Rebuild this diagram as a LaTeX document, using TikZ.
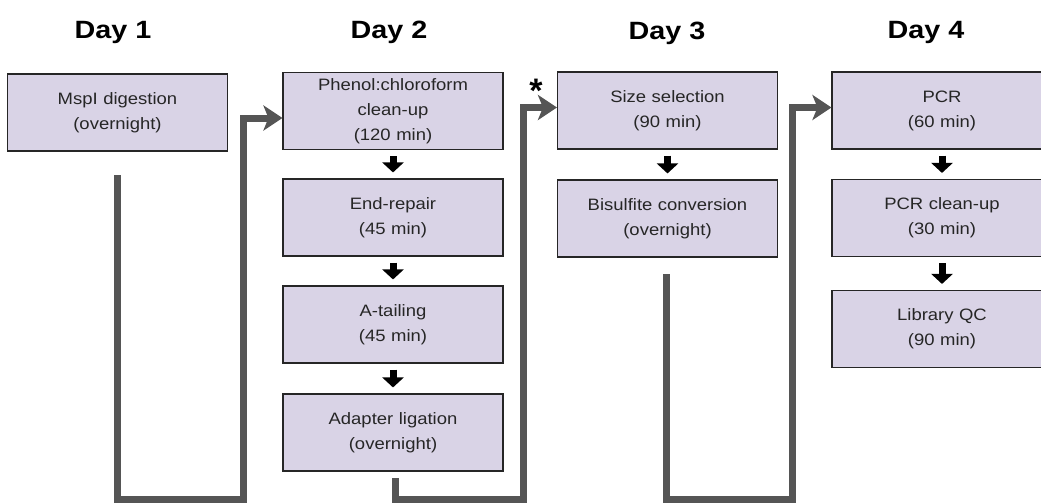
\documentclass[tikz,border=0pt]{standalone}
\usepackage{fontspec}
\setmainfont{Liberation Sans}
\newfontfamily\boxfont[FakeStretch=1.12]{Liberation Sans}
\newfontfamily\dayfont[FakeStretch=1.15]{Liberation Sans}
\usepackage{tikz}
\usetikzlibrary{arrows.meta,positioning}
\definecolor{boxfill}{HTML}{D9D3E6}
\definecolor{flowgray}{HTML}{555555}

\begin{document}
\begin{tikzpicture}[x=1pt, y=-1pt,
    bx/.style={rectangle, draw=black!85, line width=1.1pt, fill=boxfill,
               minimum width=220pt, minimum height=77pt, inner sep=0pt,
               text width=210pt, align=center, text=black!85,
               font=\boxfont\fontsize{16.5}{25}\selectfont},
    day/.style={anchor=base, font=\dayfont\bfseries\fontsize{25}{28}\selectfont},
    dn/.style={line width=7pt, shorten <=6pt, shorten >=6pt,
               -{Triangle[width=21pt, length=10pt]}},
    fl/.style={draw=flowgray, line width=7pt, line join=miter,
               -{Stealth[length=19pt, width=25pt, inset=5pt]}},
  ]
  \useasboundingbox (0,0) rectangle (1041,503);
  % day headings
  \node[day] (d1) at (113,39) {Day 1};
  \node[day] (d2) at (389,39) {Day 2};
  \node[day] (d3) at (667,40) {Day 3};
  \node[day] (d4) at (926,39) {Day 4};
  % steps
  \node[bx] (n1) at (117.5,112.5) {MspI digestion\\(overnight)};
  \node[bx] (n2) at (393,111) {Phenol:chloroform\\clean-up\\(120 min)};
  \node[bx] (n3) at (393,217.5) {End-repair\\(45 min)};
  \node[bx] (n4) at (393,324.5) {A-tailing\\(45 min)};
  \node[bx] (n5) at (393,432.5) {Adapter ligation\\(overnight)};
  \node[bx] (n6) at (667.5,110.5) {Size selection\\(90 min)};
  \node[bx] (n7) at (667.5,218.5) {Bisulfite conversion\\(overnight)};
  \node[bx] (n8) at (942,110.5) {PCR\\(60 min)};
  \node[bx] (n9) at (942,218) {PCR clean-up\\(30 min)};
  \node[bx] (n10) at (942,329) {Library QC\\(90 min)};
  \node[anchor=base, font=\bfseries\fontsize{34}{36}\selectfont] (ast) at (536,102) {*};
  % within a day
  \draw[dn] (n2) -- (n3);
  \draw[dn] (n3) -- (n4);
  \draw[dn] (n4) -- (n5);
  \draw[dn] (n6) -- (n7);
  \draw[dn] (n8) -- (n9);
  \draw[dn] (n9) -- (n10);
  % from one day to the next
  \coordinate (s1) at (117,175);
  \coordinate (k1) at (243,499);
  \coordinate (s2) at (395,478);
  \coordinate (k2) at (523,499);
  \coordinate (s3) at (666,274);
  \coordinate (k3) at (792,499);
  \draw[fl] (s1) |- (k1) |- ([yshift=-7pt]n2.west);
  \draw[fl] (s2) |- (k2) |- ([yshift=3pt]n6.west);
  \draw[fl] (s3) |- (k3) |- ([yshift=3pt]n8.west);
\end{tikzpicture}
\end{document}
